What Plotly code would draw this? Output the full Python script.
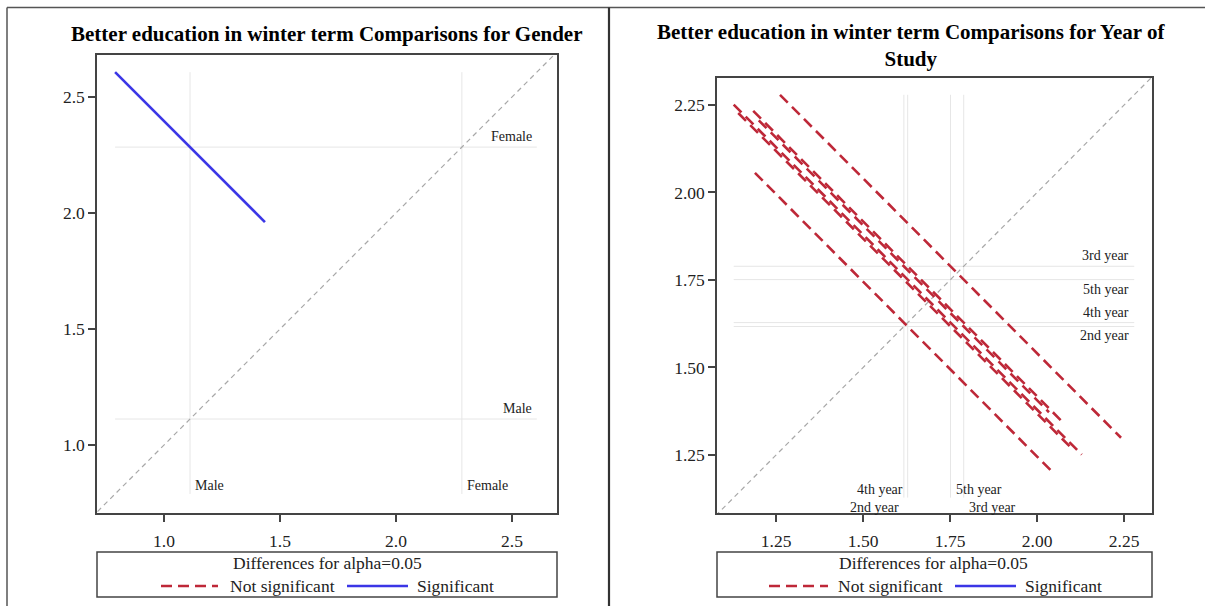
import plotly.graph_objects as go

# ---------------- data ----------------
gender_levels = ["Male", "Female"]
gender_means = [1.112, 2.284]
gender_pair_x = ["Male"]
gender_pair_y = ["Female"]
gender_pair_half = [0.323]
gender_pair_sig = [True]

year_levels = ["2nd year", "3rd year", "4th year", "5th year"]
year_means = [1.617, 1.789, 1.628, 1.751]
year_pair_x = ["2nd year", "2nd year", "2nd year", "4th year", "4th year", "5th year"]
year_pair_y = ["3rd year", "4th year", "5th year", "3rd year", "5th year", "3rd year"]
year_pair_half = [0.417, 0.428, 0.476, 0.444, 0.500, 0.490]
year_pair_sig = [False, False, False, False, False, False]

gender_ticks = [1.0, 1.5, 2.0, 2.5]
gender_ticklabels = ["1.0", "1.5", "2.0", "2.5"]
year_ticks = [1.25, 1.50, 1.75, 2.00, 2.25]
year_ticklabels = ["1.25", "1.50", "1.75", "2.00", "2.25"]

title_gender = "Better education in winter term Comparisons for Gender"
title_year = "Better education in winter term Comparisons for Year of<br>Study"
legend_title = "Differences for alpha=0.05"
legend_labels = ["Not significant", "Significant"]

# ---------------- style ----------------
W, H = 1205, 606
FONT = "Liberation Serif, Times New Roman, serif"
RED = "#BE2838"
BLUE = "#3B36E6"
REFC = "#E6E6E6"
FRAME = "#444444"

gender_side = {"Female": "above", "Male": "above"}
gender_bottom = {"Male": ("right", "above"), "Female": ("right", "above")}
year_side = {"3rd year": "above", "5th year": "below", "4th year": "above", "2nd year": "below"}
year_bottom = {"4th year": ("left", "above"), "2nd year": ("left", "below"),
               "5th year": ("right", "above"), "3rd year": ("right", "below")}


def px_x(p):
    return p / W


def px_y(p):
    return 1 - p / H


fig = go.Figure()
annotations = []
shapes = []


def add_panel(levels, means, pxs, pys, halves, sigs, xa, ya, side, bottom):
    m = dict(zip(levels, means))
    xs0 = [m[a] - w for a, w in zip(pxs, halves)]
    xs1 = [m[a] + w for a, w in zip(pxs, halves)]
    ys0 = [m[b] + w for b, w in zip(pys, halves)]
    ys1 = [m[b] - w for b, w in zip(pys, halves)]
    lo = min(xs0 + ys1)
    hi = max(xs1 + ys0)
    for lv, mv in zip(levels, means):
        fig.add_trace(go.Scatter(x=[mv, mv], y=[lo, hi], mode="lines", xaxis=xa, yaxis=ya,
                                 line=dict(color=REFC, width=1), showlegend=False, hoverinfo="skip"))
        fig.add_trace(go.Scatter(x=[lo, hi], y=[mv, mv], mode="lines", xaxis=xa, yaxis=ya,
                                 line=dict(color=REFC, width=1), showlegend=False, hoverinfo="skip"))
    fig.add_trace(go.Scatter(x=[0, 3], y=[0, 3], mode="lines", xaxis=xa, yaxis=ya,
                             line=dict(color="#A8A8A8", width=1.2, dash="5px,4px"),
                             showlegend=False, hoverinfo="skip"))
    for a0, a1, b0, b1, s in zip(xs0, xs1, ys0, ys1, sigs):
        fig.add_trace(go.Scatter(x=[a0, a1], y=[b0, b1], mode="lines", xaxis=xa, yaxis=ya,
                                 line=dict(color=BLUE if s else RED, width=2.6,
                                           dash="solid" if s else "11px,6px"),
                                 showlegend=False))
    for lv, mv in zip(levels, means):
        pos = side[lv]
        annotations.append(dict(x=hi, y=mv, xref=xa, yref=ya, text=lv, showarrow=False,
                                xanchor="right", yanchor="bottom" if pos == "above" else "top",
                                xshift=-3, yshift=1 if pos == "above" else 0,
                                font=dict(family=FONT, size=14, color="#222")))
        hpos, row = bottom[lv]
        annotations.append(dict(x=mv, y=lo, xref=xa, yref=ya, text=lv, showarrow=False,
                                xanchor="left" if hpos == "right" else "right",
                                yanchor="bottom" if row == "above" else "top",
                                xshift=3 if hpos == "right" else -3,
                                yshift=-1 if row == "above" else 0,
                                font=dict(family=FONT, size=14, color="#222")))


add_panel(gender_levels, gender_means, gender_pair_x, gender_pair_y, gender_pair_half,
          gender_pair_sig, "x", "y", gender_side, gender_bottom)
add_panel(year_levels, year_means, year_pair_x, year_pair_y, year_pair_half,
          year_pair_sig, "x2", "y2", year_side, year_bottom)

axis_common = dict(showgrid=False, zeroline=False, showline=True, mirror=True,
                   linecolor=FRAME, linewidth=1.5, ticks="outside", ticklen=7, tickwidth=1.5,
                   tickcolor=FRAME, tickfont=dict(family=FONT, size=17.5, color="#222"))

fig.update_layout(
    width=W, height=H, margin=dict(l=0, r=0, t=0, b=0),
    paper_bgcolor="white", plot_bgcolor="white", showlegend=False,
    xaxis=dict(domain=[px_x(97), px_x(557)], range=[0.711, 2.694], anchor="y",
               tickvals=gender_ticks, ticktext=gender_ticklabels, ticklabelstandoff=4, **axis_common),
    yaxis=dict(domain=[px_y(513), px_y(55)], range=[0.707, 2.681], anchor="x",
               tickvals=gender_ticks, ticktext=gender_ticklabels, **axis_common),
    xaxis2=dict(domain=[px_x(717), px_x(1152)], range=[1.080, 2.330], anchor="y2",
                tickvals=year_ticks, ticktext=year_ticklabels, ticklabelstandoff=4, **axis_common),
    yaxis2=dict(domain=[px_y(513), px_y(78)], range=[1.084, 2.327], anchor="x2",
                tickvals=year_ticks, ticktext=year_ticklabels, **axis_common),
)

annotations.append(dict(x=px_x(327), y=px_y(34), xref="paper", yref="paper", text="<b>%s</b>" % title_gender,
                        showarrow=False, xanchor="center", yanchor="middle",
                        font=dict(family=FONT, size=21, color="black")))
annotations.append(dict(x=px_x(911), y=px_y(45.5), xref="paper", yref="paper", text="<b>%s</b>" % title_year,
                        showarrow=False, xanchor="center", yanchor="middle",
                        font=dict(family=FONT, size=21, color="black")))

shapes.append(dict(type="line", xref="paper", yref="paper", x0=px_x(7), x1=1, y0=px_y(7.5), y1=px_y(7.5),
                   line=dict(color="#555", width=1.5)))
shapes.append(dict(type="line", xref="paper", yref="paper", x0=px_x(7), x1=px_x(7), y0=0, y1=px_y(7.5),
                   line=dict(color="#555", width=1.5)))
shapes.append(dict(type="line", xref="paper", yref="paper", x0=px_x(609), x1=px_x(609), y0=0, y1=px_y(7.5),
                   line=dict(color="#333", width=2.2)))


def add_legend(bx0, bx1, tcx, red0, red1, redt, blue0, blue1, bluet):
    shapes.append(dict(type="rect", xref="paper", yref="paper", x0=px_x(bx0), x1=px_x(bx1),
                       y0=px_y(597), y1=px_y(552), line=dict(color=FRAME, width=1.5)))
    annotations.append(dict(x=px_x(tcx), y=px_y(563), xref="paper", yref="paper", text=legend_title,
                            showarrow=False, xanchor="center", yanchor="middle",
                            font=dict(family=FONT, size=17.5, color="#222")))
    shapes.append(dict(type="line", xref="paper", yref="paper", x0=px_x(red0), x1=px_x(red1),
                       y0=px_y(586), y1=px_y(586), line=dict(color=RED, width=2.6, dash="11px,6px")))
    shapes.append(dict(type="line", xref="paper", yref="paper", x0=px_x(blue0), x1=px_x(blue1),
                       y0=px_y(586), y1=px_y(586), line=dict(color=BLUE, width=2.6)))
    annotations.append(dict(x=px_x(redt), y=px_y(586), xref="paper", yref="paper", text=legend_labels[0],
                            showarrow=False, xanchor="left", yanchor="middle",
                            font=dict(family=FONT, size=17.5, color="#222")))
    annotations.append(dict(x=px_x(bluet), y=px_y(586), xref="paper", yref="paper", text=legend_labels[1],
                            showarrow=False, xanchor="left", yanchor="middle",
                            font=dict(family=FONT, size=17.5, color="#222")))


add_legend(97, 557, 327, 161, 218, 228, 347, 408, 415)
add_legend(717, 1152, 933.5, 769, 828, 836, 955, 1016, 1023)

fig.update_layout(annotations=annotations, shapes=shapes)
fig.write_html("out.html", config={"displayModeBar": False},
               post_script="document.body.style.margin='0px';document.body.style.overflow='hidden';")
